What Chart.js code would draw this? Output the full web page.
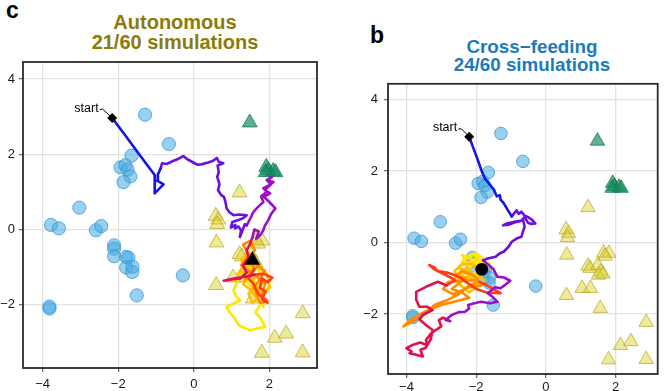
<!DOCTYPE html>
<html>
<head>
<meta charset="utf-8">
<script src="https://cdn.jsdelivr.net/npm/chart.js@4"></script>
<style>
  body { margin: 0; background: #fff; width: 667px; height: 391px; overflow: hidden; position: relative; font-family: "Liberation Sans", Arial, sans-serif; }
  .letter { position: absolute; font-weight: bold; font-size: 23px; line-height: 23px; color: #000; }
  .title { position: absolute; font-weight: bold; text-align: center; white-space: nowrap; width: 200px; }
  canvas { position: absolute; }
</style>
</head>
<body>
<div class="letter" style="left:6px; top:-1px;">c</div>
<div class="title" style="left:75px; top:12px; font-size:20px; line-height:20px; color:#8b7b0c;">Autonomous<br>21/60 simulations</div>
<div class="letter" style="left:370px; top:24px;">b</div>
<div class="title" style="left:432px; top:38px; font-size:18.8px; line-height:18px; color:#1b7bb9;">Cross&#8722;feeding<br>24/60 simulations</div>
<canvas id="autoChart" width="330" height="341" style="left:0; top:50px;"></canvas>
<canvas id="crossChart" width="317" height="321" style="left:350px; top:70px;"></canvas>
<script>
'use strict';

// axis ticks (same for both panels)
const xTickValues = [-4, -2, 0, 2];
const yTickValues = [-2, 0, 2, 4];

// reference communities in the 2-D embedding
const circlePts = [[-1.29, 3.05], [-0.66, 2.27], [-1.65, 1.96], [-1.94, 1.65], [-1.81, 1.71], [-1.75, 1.59],
  [-1.68, 1.41], [-1.86, 1.26], [-3.03, 0.58], [-3.78, 0.12], [-3.57, 0.03], [-2.59, -0.02], [-2.45, 0.09],
  [-2.11, -0.42], [-2.11, -0.51], [-2.11, -0.71], [-1.79, -0.73], [-1.73, -0.75], [-1.79, -1.01],
  [-1.62, -0.99], [-1.63, -1.13], [-0.29, -1.22], [-1.51, -1.75], [-3.82, -2.10], [-3.82, -2.05]];
const greenPts = [[1.48, 2.84], [1.92, 1.66], [1.97, 1.57], [2.10, 1.55], [1.90, 1.52], [2.16, 1.52]];
const yellowPts = [[1.21, 0.98], [0.58, 0.36], [0.65, 0.26], [0.62, 0.14], [0.60, -0.35], [1.66, -0.29],
  [1.81, -0.30], [1.70, -0.38], [1.21, -0.66], [1.27, -0.72], [1.49, -0.64], [1.58, -0.82], [1.51, -0.91],
  [1.64, -0.88], [1.04, -1.28], [1.28, -1.28], [0.59, -1.48], [1.56, -1.84], [2.88, -2.23], [2.14, -2.88],
  [2.44, -2.77], [1.80, -3.28], [2.88, -3.27]];

// autonomous run, split by time phase
const autoStart = [-2.16, 2.96];
const autoEnd = [1.55, -0.82];
const autoBlue = [[-2.16, 2.96], [-1.85, 2.55], [-1.52, 2.10], [-1.24, 1.72], [-1.03, 1.44], [-1.04, 1.18],
  [-1.03, 0.96], [-0.92, 1.08], [-0.80, 1.20], [-0.97, 1.30], [-0.95, 1.46], [-0.88, 1.62]];
const autoViolet = [[-0.88, 1.62], [-0.84, 1.76], [-0.72, 1.74], [-0.55, 1.82], [-0.40, 1.88], [-0.28, 1.95],
  [-0.16, 1.86], [-0.05, 1.80], [0.10, 1.72], [0.20, 1.73], [0.38, 1.78], [0.50, 1.82], [0.61, 1.90],
  [0.66, 1.80], [0.78, 1.76], [0.63, 1.70], [0.66, 1.52], [0.62, 1.40], [0.68, 1.20], [0.64, 1.05],
  [0.72, 0.92], [0.80, 0.86], [0.84, 0.72], [0.87, 0.56], [0.95, 0.45], [1.05, 0.38], [1.20, 0.40],
  [1.40, 0.38], [1.30, 0.30], [1.18, 0.25], [1.02, 0.20], [0.98, 0.05], [1.10, 0.12], [1.09, 0.03],
  [1.18, 0.08], [1.25, -0.02], [1.22, -0.20], [1.35, 0.14], [1.40, 0.11]];
const autoPurple = [[1.40, 0.11], [1.50, 0.30], [1.58, 0.47], [1.70, 0.60], [1.84, 0.73], [1.78, 0.88],
  [1.93, 1.00], [1.84, 1.10], [2.00, 1.18], [2.11, 1.26], [1.95, 1.30], [2.07, 1.40], [1.93, 1.31],
  [2.04, 1.20], [1.88, 1.05], [2.02, 0.96], [1.85, 0.87], [1.98, 0.75], [2.16, 0.56], [2.05, 0.42],
  [1.97, 0.25], [1.88, 0.10], [1.84, -0.02], [1.76, -0.15], [1.65, -0.25], [1.72, -0.05], [1.60, 0.00],
  [1.55, -0.22]];
const autoCrimson = [[1.55, -0.22], [1.48, -0.40], [1.40, -0.55], [1.45, -0.75], [1.30, -0.95], [1.40, -1.15],
  [1.23, -1.30], [1.00, -1.33], [0.79, -1.36], [1.05, -1.30], [1.40, -1.25], [1.60, -1.20]];
const autoRed = [[1.60, -1.20], [1.85, -1.18], [2.08, -1.28], [1.95, -1.40], [1.80, -1.30], [1.75, -1.55],
  [1.90, -1.65], [1.80, -1.85], [1.95, -1.95], [1.70, -1.70], [1.58, -1.45], [1.45, -1.30], [1.60, -1.05]];
const autoOrange = [[1.60, -1.05], [1.42, -0.60], [1.30, -0.40], [1.50, -0.30], [1.62, -0.55], [1.40, -0.75],
  [1.25, -0.95], [1.45, -1.10], [1.65, -1.25], [1.90, -1.40], [1.80, -1.75], [1.95, -1.90], [1.75, -1.95],
  [1.60, -1.55], [1.75, -1.30], [1.88, -1.10], [1.70, -0.95], [1.50, -1.20], [1.35, -1.35], [1.55, -1.10]];
const autoGold = [[1.55, -1.10], [1.35, -1.10], [1.15, -1.20], [1.30, -1.00], [1.55, -0.95], [1.80, -1.05],
  [1.95, -1.20], [2.00, -1.50], [1.85, -1.75], [1.70, -1.60], [1.85, -1.40], [1.65, -1.20], [1.45, -1.25],
  [1.30, -1.45], [1.50, -1.60], [1.68, -1.85], [1.55, -1.95], [1.45, -1.70], [1.62, -1.45], [1.40, -1.00],
  [1.25, -0.80], [1.45, -0.65], [1.60, -1.30]];
const autoYellow = [[1.60, -1.30], [1.40, -1.10], [1.23, -1.17], [1.15, -1.40], [1.05, -1.61], [1.12, -1.78],
  [1.23, -1.88], [0.87, -2.06], [0.95, -2.20], [1.05, -2.32], [1.20, -2.55], [1.49, -2.68], [1.72, -2.62],
  [1.89, -2.59], [1.76, -2.35], [1.63, -2.20], [1.80, -1.95], [1.84, -2.06], [1.80, -1.79], [2.02, -1.53],
  [1.93, -1.17], [1.75, -1.05], [1.67, -0.99], [1.80, -1.30], [1.62, -1.60], [1.45, -1.45], [1.30, -1.20],
  [1.38, -0.95], [1.50, -0.90], [1.62, -0.75], [1.55, -0.82]];

// cross-feeding run, split by time phase
const crossStart = [-2.20, 2.96];
const crossEnd = [-1.84, -0.75];
const crossBlue = [[-2.20, 2.96], [-2.08, 2.64], [-1.95, 2.30], [-1.85, 2.02], [-1.75, 1.79], [-1.62, 1.63],
  [-1.49, 1.48], [-1.41, 1.29], [-1.32, 1.32], [-1.30, 1.20], [-1.21, 1.10], [-1.10, 0.92], [-0.98, 0.73]];
const crossViolet = [[-0.98, 0.73], [-0.84, 0.90], [-0.78, 0.80], [-0.70, 0.86], [-0.62, 0.76], [-0.51, 0.71],
  [-0.38, 0.62], [-0.30, 0.53], [-0.42, 0.52], [-0.51, 0.55], [-0.58, 0.66], [-0.61, 0.71], [-0.72, 0.60],
  [-0.93, 0.55], [-1.05, 0.50], [-1.23, 0.48], [-1.12, 0.53], [-0.90, 0.58], [-0.65, 0.62], [-0.61, 0.44],
  [-0.66, 0.30], [-0.70, 0.16], [-0.84, 0.11], [-0.98, 0.02], [-1.07, -0.12], [-1.21, -0.26], [-1.32, -0.30],
  [-1.44, -0.40], [-1.67, -0.45], [-1.80, -0.50]];
const crossPurple = [[-1.80, -0.50], [-1.65, -0.62], [-1.50, -0.75], [-1.39, -0.96], [-1.20, -0.98],
  [-1.02, -1.07], [-1.12, -1.15], [-1.30, -1.28], [-1.45, -1.25], [-1.67, -1.42], [-1.55, -1.50],
  [-1.39, -1.66], [-1.60, -1.70], [-1.86, -1.66], [-2.05, -1.70], [-2.23, -1.75], [-2.20, -1.85],
  [-2.32, -1.94], [-2.50, -1.95], [-2.70, -2.03], [-2.88, -2.17], [-2.75, -2.20]];
const crossCrimson = [[-2.75, -2.20], [-2.95, -2.10], [-3.07, -2.17], [-3.00, -2.35], [-3.16, -2.45],
  [-3.30, -2.55], [-3.44, -2.73], [-3.40, -2.88], [-3.60, -2.80], [-3.81, -2.86], [-4.00, -2.96],
  [-3.85, -3.05], [-3.91, -3.10], [-3.70, -3.15], [-3.53, -3.19], [-3.60, -3.00], [-3.45, -2.95],
  [-3.30, -2.70], [-3.25, -2.45], [-3.45, -2.30], [-3.63, -2.15], [-3.53, -2.03], [-3.25, -1.89],
  [-3.40, -1.80], [-3.63, -1.80], [-3.72, -1.60], [-3.72, -1.38], [-3.44, -1.24], [-3.10, -1.10], [-2.85, -1.20]];
const crossRed = [[-2.85, -1.20], [-2.60, -1.05], [-2.90, -0.90], [-3.20, -0.75], [-3.35, -0.63], [-3.20, -0.70],
  [-3.10, -0.80], [-2.80, -0.85], [-2.50, -0.95], [-2.30, -1.10], [-2.00, -1.30], [-1.70, -1.40], [-1.30, -1.42],
  [-1.60, -1.25], [-1.90, -1.10]];
const crossOrange = [[-1.90, -1.10], [-2.20, -1.20], [-2.50, -1.45], [-2.80, -1.60], [-3.20, -1.75], [-3.60, -2.10],
  [-4.09, -2.35], [-3.80, -2.10], [-3.40, -1.90], [-3.00, -1.75], [-2.60, -1.65], [-2.20, -1.55], [-2.40, -1.40],
  [-2.70, -1.30], [-2.50, -1.15], [-2.30, -1.00], [-2.60, -0.95], [-2.40, -0.80], [-2.10, -0.90], [-1.95, -1.05],
  [-2.80, -1.10], [-2.95, -1.30], [-2.65, -1.45], [-2.20, -1.25], [-1.85, -1.20]];
const crossGold = [[-1.85, -1.20], [-2.05, -0.95], [-2.35, -0.85], [-2.55, -1.10], [-2.30, -1.30], [-2.05, -1.15],
  [-2.25, -0.70], [-2.45, -0.95], [-2.15, -1.00], [-1.90, -0.85], [-2.10, -0.60], [-2.40, -0.60], [-2.62, -0.80],
  [-2.45, -1.20], [-2.20, -1.40], [-2.00, -1.25], [-1.75, -1.05], [-1.95, -0.95], [-2.30, -1.05], [-2.15, -0.80],
  [-2.50, -0.72], [-2.20, -0.85]];
const crossYellow = [[-2.20, -0.85], [-2.35, -0.50], [-2.10, -0.35], [-1.90, -0.40], [-2.20, -0.55], [-2.45, -0.65],
  [-2.30, -0.40], [-2.00, -0.30], [-1.80, -0.45], [-2.05, -0.60], [-1.75, -0.60], [-1.95, -0.50], [-2.25, -0.75],
  [-2.50, -0.85], [-2.35, -1.00], [-2.10, -0.90], [-1.95, -0.80], [-2.15, -0.45], [-2.40, -0.35], [-2.25, -0.62],
  [-1.70, -0.70], [-1.62, -0.58], [-1.84, -0.75]];

const phaseColors = ['#1414e6', '#6a10e0', '#9c10c4', '#e3104e', '#ff3c14', '#ff8a00', '#ffbe00', '#ffe600'];

const xy = pts => pts.map(([x, y]) => ({ x, y }));
const fmt = v => (v < 0 ? '\u2212' + Math.abs(v) : String(v));

function pathSet(pts, color) {
  return { data: xy(pts), showLine: true, borderColor: color, borderWidth: 2.6, pointRadius: 0,
    borderJoinStyle: 'round', borderCapStyle: 'round', order: 2 };
}

function markerSets(r) {
  return [
    { data: xy(circlePts), pointStyle: 'circle', pointRadius: r.circle, backgroundColor: 'rgba(70,170,225,0.55)',
      borderColor: 'rgba(45,145,210,0.7)', borderWidth: 1, order: 6 },
    { data: xy(greenPts), pointStyle: 'triangle', pointRadius: r.tri, backgroundColor: 'rgba(20,140,95,0.68)',
      borderColor: 'rgba(20,120,85,0.8)', borderWidth: 1, order: 6 },
    { data: xy(yellowPts), pointStyle: 'triangle', pointRadius: r.tri, backgroundColor: 'rgba(222,208,45,0.48)',
      borderColor: 'rgba(180,165,30,0.7)', borderWidth: 1, order: 6 }
  ];
}

function axis(min, max, ticksAt, pad, fit) {
  return {
    type: 'linear', min, max,
    afterBuildTicks: s => { s.ticks = ticksAt.map(v => ({ value: v })); },
    afterFit: s => { if (s.isHorizontal()) s.height = fit; else s.width = fit; },
    grid: { color: '#e2e2e2', lineWidth: 1.3, tickLength: 4, tickColor: '#666', tickWidth: 1.2 },
    border: { display: false },
    ticks: { padding: pad, color: '#1a1a1a', font: { size: 13, family: '"Liberation Sans", Arial' }, callback: v => fmt(v) }
  };
}

// dark box around the plotting area
const frame = {
  id: 'frame',
  beforeDatasetsDraw(c) {
    const a = c.chartArea, ctx = c.ctx;
    ctx.save();
    ctx.strokeStyle = '#2a2a2a';
    ctx.lineWidth = 1.8;
    ctx.strokeRect(a.left, a.top, a.right - a.left, a.bottom - a.top);
    ctx.restore();
  }
};

// "start" tag with a short leader to the start marker
const startTag = {
  id: 'startTag',
  afterDatasetsDraw(c, args, o) {
    const ctx = c.ctx;
    const x = c.scales.x.getPixelForValue(o.at[0]);
    const y = c.scales.y.getPixelForValue(o.at[1]);
    ctx.save();
    ctx.font = '12.5px "Liberation Sans", Arial';
    ctx.fillStyle = '#000';
    ctx.textAlign = 'right';
    ctx.textBaseline = 'middle';
    ctx.fillText('start', x + o.dx, y + o.dy);
    ctx.strokeStyle = '#000';
    ctx.lineWidth = 1;
    ctx.beginPath();
    ctx.moveTo(x + o.dx + 1, y + o.dy + 1.5);
    ctx.lineTo(x + o.dx + 4, y + o.dy + 1);
    ctx.lineTo(x - 2, y - 2);
    ctx.stroke();
    ctx.restore();
  }
};

function panel(id, cfg) {
  const phases = cfg.phases.map((p, i) => pathSet(p, phaseColors[i]));
  return new Chart(document.getElementById(id), {
    type: 'scatter',
    data: {
      datasets: [
        ...markerSets(cfg.r),
        ...phases,
        { data: xy([cfg.start]), pointStyle: 'rectRot', pointRadius: 5, backgroundColor: '#000', borderColor: '#000', borderWidth: 0, order: 0 },
        { data: xy([cfg.end]), pointStyle: cfg.endStyle, pointRadius: cfg.endRadius, backgroundColor: '#000', borderColor: '#000', borderWidth: 0, order: 0 }
      ]
    },
    options: {
      responsive: false,
      animation: false,
      events: [],
      layout: { padding: cfg.padding },
      plugins: { legend: { display: false }, tooltip: { enabled: false },
        startTag: { at: cfg.start, dx: cfg.tagDx, dy: cfg.tagDy } },
      scales: {
        x: axis(cfg.xMin, cfg.xMax, xTickValues, cfg.xPad, cfg.xFit),
        y: axis(cfg.yMin, cfg.yMax, yTickValues, cfg.yPad, cfg.yFit)
      }
    },
    plugins: [frame, startTag]
  });
}

panel('autoChart', {
  phases: [autoBlue, autoViolet, autoPurple, autoCrimson, autoRed, autoOrange, autoGold, autoYellow],
  start: autoStart, end: autoEnd, endStyle: 'triangle', endRadius: 9,
  r: { circle: 6.6, tri: 8.6 },
  padding: { top: 12, right: 13, left: 0, bottom: 0 },
  xMin: -4.52, xMax: 3.26, yMin: -3.68, yMax: 4.45,
  xPad: 5, xFit: 23, yPad: 4, yFit: 23,
  tagDx: -13.5, tagDy: -10
});

panel('crossChart', {
  phases: [crossBlue, crossViolet, crossPurple, crossCrimson, crossRed, crossOrange, crossGold, crossYellow],
  start: crossStart, end: crossEnd, endStyle: 'circle', endRadius: 6.4,
  r: { circle: 6.3, tri: 8.3 },
  padding: { top: 13, right: 2, left: 0, bottom: 0 },
  xMin: -4.53, xMax: 3.21, yMin: -3.68, yMax: 4.44,
  xPad: 2, xFit: 17, yPad: 6, yFit: 38,
  tagDx: -12, tagDy: -9
});
</script>
</body>
</html>
